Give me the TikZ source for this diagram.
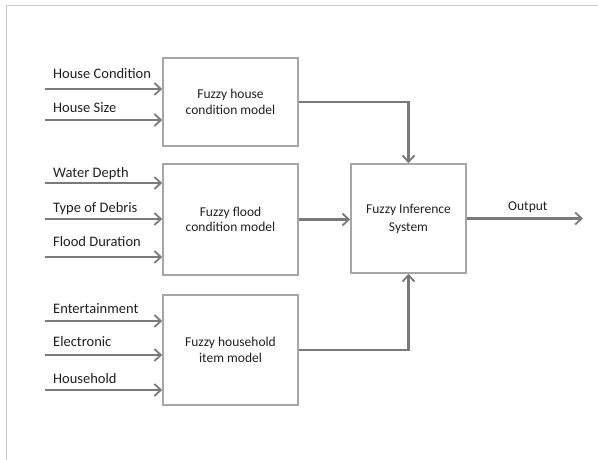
\documentclass[tikz,border=0pt]{standalone}
\usepackage{fontspec}
\setmainfont{Carlito}
\usetikzlibrary{arrows.meta}
\definecolor{boxgray}{HTML}{A6A6A6}
\definecolor{wiregray}{HTML}{7A7A7A}
\definecolor{framegray}{HTML}{CCCCCC}
\definecolor{textgray}{HTML}{202020}

\begin{document}
\begin{tikzpicture}[x=1pt, y=-1pt,
    model/.style={draw=boxgray, line width=1.6pt, minimum width=135pt, align=center,
      text=textgray, inner sep=0pt, font=\fontsize{13.5}{15.5}\selectfont},
    wire/.style={draw=wiregray, line width=2.3pt,
      -{Straight Barb[length=6.5pt,width=12pt,line width=1.8pt]}},
    lbl/.style={anchor=base west, inner sep=0pt, text=textgray,
      font=\fontsize{14.5}{16}\selectfont}]
    \useasboundingbox (0,0) rectangle (598,460);
    \draw[framegray, line width=1pt] (6,460) -- (6,6) -- (598,6);

    \node[model, minimum height=88pt] (house) at (230.5,102) {Fuzzy house\\condition model};
    \node[model, minimum height=111pt] (flood) at (230.5,219.5) {Fuzzy flood\\condition model};
    \node[model, minimum height=110pt] (item) at (230.5,350) {Fuzzy household\\item model};
    \node[model, minimum width=115pt, minimum height=109pt,
      font=\fontsize{13.5}{18}\selectfont] (fis) at (408.5,218.5) {Fuzzy Inference\\System};

    \foreach \y/\b/\t/\m in {89/79/House Condition/house, 120/113/House Size/house,
        183/178/Water Depth/flood, 219/212/Type of Debris/flood, 257/246/Flood Duration/flood,
        321/313/Entertainment/item, 355/346/Electronic/item, 390/383/Household/item} {
        \coordinate (src\y) at (45,\y);
        \draw[wire] (src\y) -- (src\y -| \m.west);
        \node[lbl] (lbl\y) at (53,\b) {\t};}

    \draw[wire] (house.east) -| (fis.north);
    \draw[wire] (flood.east) -- (flood.east -| fis.west);
    \draw[wire] (item.east) -| (fis.south);

    % result of the inference
    \coordinate (out) at (583,218.5);
    \draw[wire] (fis.east) -- (out);
    \node[lbl, font=\fontsize{13.5}{15}\selectfont] (outlbl) at (508,210) {Output};
\end{tikzpicture}
\end{document}
